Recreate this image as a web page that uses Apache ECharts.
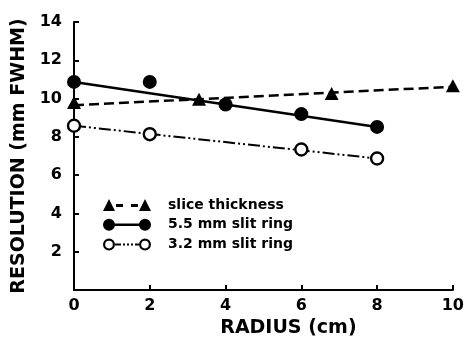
<!DOCTYPE html>
<html>
<head>
<meta charset="utf-8">
<script src="https://cdn.jsdelivr.net/npm/echarts@6/dist/echarts.min.js"></script>
<style>html,body{margin:0;padding:0;background:#fff}#c{width:467px;height:347px}</style>
</head>
<body>
<div id="c"></div>
<script>
// ---- data ----
const xTicks = [0, 2, 4, 6, 8, 10];
const yTicks = [2, 4, 6, 8, 10, 12, 14];
const sliceThickness = [[0, 9.8], [3.3, 9.97], [6.8, 10.27], [10, 10.67]];
const sliceFit = [[0, 9.65], [10, 10.62]];
const ring55 = [[0, 10.87], [2, 10.87], [4, 9.69], [6, 9.19], [8, 8.52]];
const ring55Fit = [[0, 10.87], [8, 8.52]];
const ring32 = [[0, 8.58], [2, 8.14], [6, 7.34], [8, 6.87]];
const ring32Fit = [[0, 8.58], [8, 6.87]];
const seriesNames = ['slice thickness', '5.5 mm slit ring', '3.2 mm slit ring'];
const xTitle = 'RADIUS (cm)';
const yTitle = 'RESOLUTION (mm FWHM)';

const FONT = 'DejaVu Sans';
const chart = echarts.init(document.getElementById('c'), null, {renderer: 'canvas'});

const triIcon = 'path://M0 12 L6 0 L12 12 Z M13 5 L20 5 L20 8 L13 8 Z M28 5 L35 5 L35 8 L28 8 Z M36 12 L42 0 L48 12 Z';
const fillIcon = 'path://M0 6 A6 6 0 1 1 12 6 A6 6 0 1 1 0 6 Z M11 4.8 L37 4.8 L37 7.2 L11 7.2 Z M36 6 A6 6 0 1 1 48 6 A6 6 0 1 1 36 6 Z';
const openIcon = 'path://M0 6 A6 6 0 1 1 12 6 A6 6 0 1 1 0 6 Z M2.2 6 A3.8 3.8 0 1 0 9.8 6 A3.8 3.8 0 1 0 2.2 6 Z ' +
  'M12 5 L18 5 L18 7 L12 7 Z M20 5 L22 5 L22 7 L20 7 Z M24 5 L26 5 L26 7 L24 7 Z M28 5 L30 5 L30 7 L28 7 Z M32 5 L36 5 L36 7 L32 7 Z ' +
  'M36 6 A6 6 0 1 1 48 6 A6 6 0 1 1 36 6 Z M38.2 6 A3.8 3.8 0 1 0 45.8 6 A3.8 3.8 0 1 0 38.2 6 Z';

const option = {
  animation: false,
  backgroundColor: '#fff',
  textStyle: {fontFamily: FONT, fontWeight: 'bold', color: '#000'},
  grid: {left: 74, right: 10, top: 22, bottom: 57, containLabel: false},
  legend: {
    left: 98, top: 193, orient: 'vertical',
    itemWidth: 48, itemHeight: 12, itemGap: 5.8,
    selectedMode: false,
    textStyle: {fontFamily: FONT, fontWeight: 'bold', fontSize: 14, color: '#000', padding: [0, 0, 0, 12]},
    data: [
      {name: seriesNames[0], icon: triIcon, itemStyle: {color: '#000', borderWidth: 0}},
      {name: seriesNames[1], icon: fillIcon, itemStyle: {color: '#000', borderWidth: 0}},
      {name: seriesNames[2], icon: openIcon, itemStyle: {color: '#000', borderWidth: 0}}
    ]
  },
  xAxis: {
    type: 'value', min: xTicks[0], max: xTicks[xTicks.length - 1], interval: 2,
    name: xTitle, nameLocation: 'middle', nameGap: 24,
    nameTextStyle: {fontFamily: FONT, fontWeight: 'bold', fontSize: 19, color: '#000', padding: [0, 0, 0, 50]},
    axisLine: {lineStyle: {color: '#000', width: 2}},
    axisTick: {inside: true, length: 5, lineStyle: {color: '#000', width: 2}},
    axisLabel: {fontFamily: FONT, fontWeight: 'bold', fontSize: 16, color: '#000', margin: 8},
    splitLine: {show: false}
  },
  yAxis: {
    type: 'value', min: 0, max: yTicks[yTicks.length - 1], interval: 2,
    name: yTitle, nameLocation: 'middle', nameGap: 43,
    nameTextStyle: {fontFamily: FONT, fontWeight: 'bold', fontSize: 19, color: '#000'},
    axisLine: {show: true, lineStyle: {color: '#000', width: 2}},
    axisTick: {show: true, inside: true, length: 5, lineStyle: {color: '#000', width: 2}},
    axisLabel: {fontFamily: FONT, fontWeight: 'bold', fontSize: 16, color: '#000', margin: 12,
      formatter: v => (yTicks.indexOf(v) >= 0 ? String(v) : '')},
    splitLine: {show: false}
  },
  series: [
    {name: 'fit1', type: 'line', data: sliceFit, symbol: 'none', z: 2,
      lineStyle: {color: '#000', width: 2.5, type: [10, 5]}},
    {name: 'fit2', type: 'line', data: ring55Fit, symbol: 'none', z: 2,
      lineStyle: {color: '#000', width: 2.5, type: 'solid'}},
    {name: 'fit3', type: 'line', data: ring32Fit, symbol: 'none', z: 2,
      lineStyle: {color: '#000', width: 2, type: [12, 3, 2, 3, 2, 3]}},
    {name: seriesNames[0], type: 'scatter', data: sliceThickness, symbol: 'triangle', symbolSize: [14, 13], z: 3,
      itemStyle: {color: '#000', opacity: 1}},
    {name: seriesNames[1], type: 'scatter', data: ring55, symbol: 'circle', symbolSize: 14, z: 3,
      itemStyle: {color: '#000', opacity: 1}},
    {name: seriesNames[2], type: 'scatter', data: ring32, symbol: 'circle', symbolSize: 12, z: 3,
      itemStyle: {color: '#fff', borderColor: '#000', borderWidth: 2.4, opacity: 1}}
  ]
};
chart.setOption(option);
</script>
</body>
</html>
